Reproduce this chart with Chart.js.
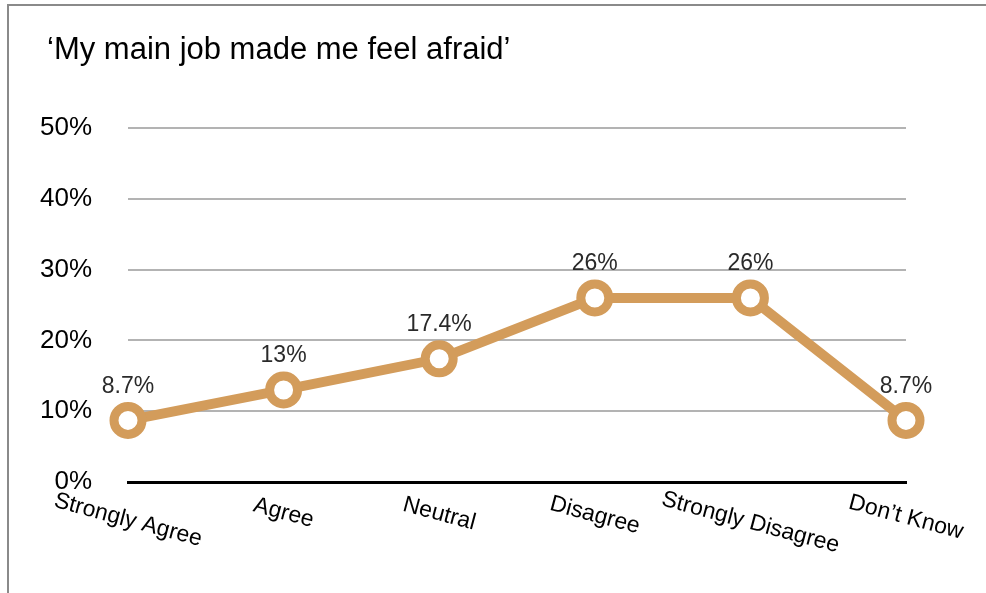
<!DOCTYPE html>
<html>
<head>
<meta charset="utf-8">
<script src="https://cdn.jsdelivr.net/npm/chart.js@4"></script>
<style>
  body { margin: 0; background: #fff; overflow: hidden; }
  #wrap { position: relative; width: 986px; height: 593px; }
</style>
</head>
<body>
<div id="wrap"><canvas id="chart"></canvas></div>
<script>
var title = '\u2018My main job made me feel afraid\u2019'
var categories = ['Strongly Agree', 'Agree', 'Neutral', 'Disagree', 'Strongly Disagree', 'Don\u2019t Know']
var values = [8.7, 13, 17.4, 26, 26, 8.7]
var yTicks = [0, 10, 20, 30, 40, 50]

var tan = '#d39c5b'
var font = '"Liberation Sans", Helvetica, Arial, sans-serif'

// frame lines + title
var framePlugin = {
	id: 'frame',
	beforeDraw(chart) {
		var ctx = chart.ctx
		ctx.save()
		ctx.strokeStyle = '#8a8a8a'
		ctx.lineWidth = 2
		ctx.beginPath()
		ctx.moveTo(8, 593)
		ctx.lineTo(8, 5)
		ctx.lineTo(986, 5)
		ctx.stroke()
		ctx.fillStyle = '#000'
		ctx.font = '31px ' + font
		ctx.textBaseline = 'middle'
		ctx.fillText(title, 47, 50)
		ctx.restore()
	}
}

// rotated category labels and value labels
var labelPlugin = {
	id: 'labels',
	afterDatasetsDraw(chart) {
		var ctx = chart.ctx
		var xs = chart.scales.x
		ctx.save()
		ctx.fillStyle = '#000'
		ctx.font = '23px ' + font
		ctx.textAlign = 'center'
		ctx.textBaseline = 'middle'
		categories.forEach((c, i) => {
			var w = ctx.measureText(c).width
			ctx.save()
			ctx.translate(xs.getPixelForTick(i), 508 + 0.08 * w)
			ctx.rotate(15 * Math.PI / 180)
			ctx.fillText(c, 0, 0)
			ctx.restore()
		})
		ctx.fillStyle = '#2a2a2a'
		ctx.font = '23px ' + font
		chart.getDatasetMeta(0).data.forEach((p, i) => {
			ctx.fillText(values[i] + '%', p.x, p.y - 34)
		})
		ctx.restore()
	}
}

function drawChart() {
	const ctx = document.getElementById('chart')
	new Chart(ctx, {
		type: 'line',
		data: {
			labels: categories,
			datasets: [{
				data: values,
				borderColor: tan,
				borderWidth: 10,
				pointRadius: 14,
				pointBorderWidth: 9,
				pointBorderColor: tan,
				pointBackgroundColor: '#fff',
				tension: 0,
				clip: false
			}]
		},
		options: {
			responsive: true,
			maintainAspectRatio: false,
			animation: false,
			layout: { padding: { top: 128, right: 80, left: 0, bottom: 0 } },
			plugins: {
				legend: { display: false },
				tooltip: { enabled: false }
			},
			scales: {
				x: {
					offset: false,
					grid: { display: false },
					border: { color: '#000', width: 3 },
					ticks: { display: false },
					afterFit: (s) => { s.height = 111 }
				},
				y: {
					min: 0,
					max: 50,
					afterBuildTicks: (s) => { s.ticks = yTicks.map((v) => ({ value: v })) },
					border: { display: false },
					grid: {
						drawTicks: false,
						lineWidth: 2,
						color: (c) => c.tick && c.tick.value === 0 ? 'rgba(0,0,0,0)' : '#b3b3b3'
					},
					ticks: {
						padding: 36,
						color: '#000',
						font: { family: font, size: 26 },
						callback: (v) => v + '%'
					},
					afterFit: (s) => { s.width = 128 }
				}
			}
		},
		plugins: [framePlugin, labelPlugin]
	})
}

document.addEventListener('DOMContentLoaded', drawChart)
</script>
</body>
</html>
